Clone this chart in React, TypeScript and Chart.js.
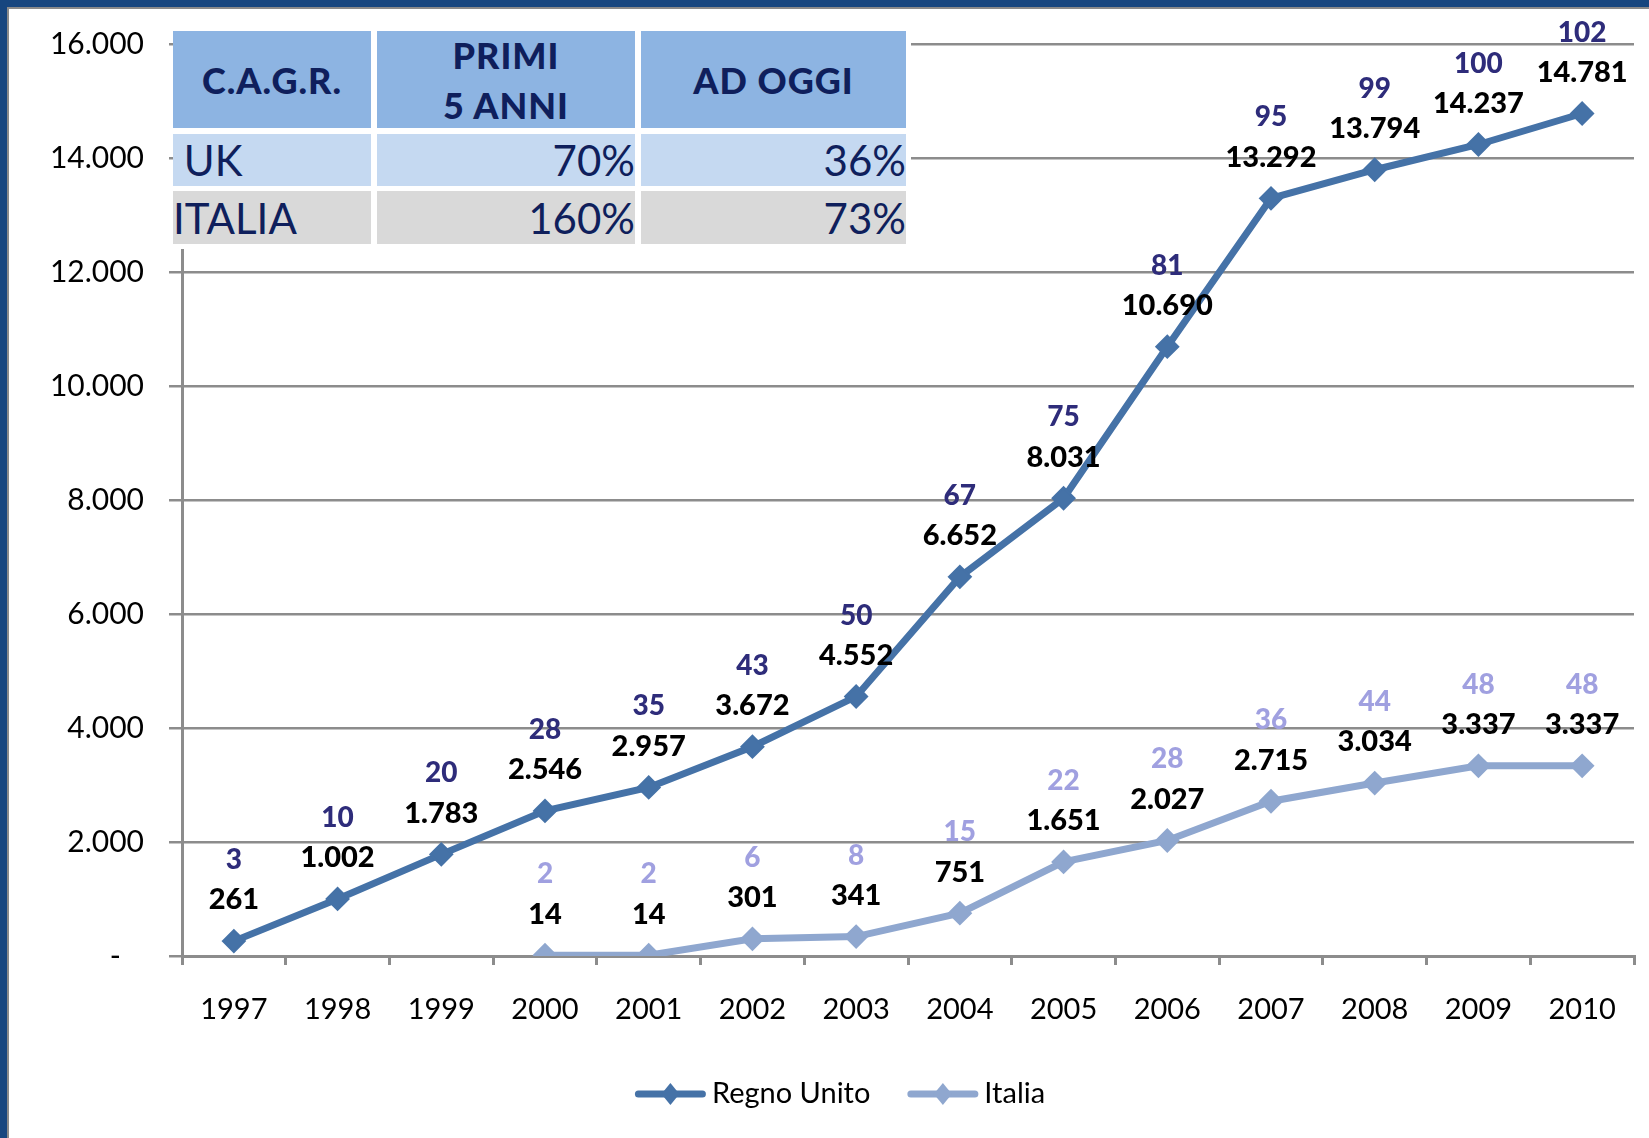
import React, { useEffect, useRef } from "react";
import { Chart, registerables } from "chart.js";

Chart.register(...registerables);

// ---------- data ----------
const years = ["1997", "1998", "1999", "2000", "2001", "2002", "2003", "2004", "2005", "2006", "2007", "2008", "2009", "2010"];
const ukValues = [261, 1002, 1783, 2546, 2957, 3672, 4552, 6652, 8031, 10690, 13292, 13794, 14237, 14781];
const italyValues = [null, null, null, 14, 14, 301, 341, 751, 1651, 2027, 2715, 3034, 3337, 3337];
const ukCounts = [3, 10, 20, 28, 35, 43, 50, 67, 75, 81, 95, 99, 100, 102];
const italyCounts = [null, null, null, 2, 2, 6, 8, 15, 22, 28, 36, 44, 48, 48];
const seriesNames = ["Regno Unito", "Italia"];
const yMin = 0;
const yMax = 16000;
const yStep = 2000;

const tableHeader = ["C.A.G.R.", "PRIMI\n5 ANNI", "AD OGGI"];
const tableRowUK = [" UK", "70%", "36%"];
const tableRowItalia = ["ITALIA", "160%", "73%"];

// ---------- styles ----------
const UK_COLOR = "#4572A7";
const IT_COLOR = "#8FA7CF";
const UK_COUNT_COLOR = "#2E2C7A";
const IT_COUNT_COLOR = "#A0A0E0";
const GRID = "#8C8C8C";
const FONT = "Lato, 'Open Sans', sans-serif";
const NAVY = "#0F1F5C";

const fmt = (v: number) =>
  v === 0 ? "-" : String(v).replace(/\B(?=(\d{3})+(?!\d))/g, ".");

const countsBySeries = [ukCounts, italyCounts];
const countColors = [UK_COUNT_COLOR, IT_COUNT_COLOR];

const pointLabelPlugin = {
  id: "pointLabels",
  afterDatasetsDraw(chart: any) {
    const ctx = chart.ctx;
    chart.data.datasets.forEach((ds: any, i: number) => {
      const meta = chart.getDatasetMeta(i);
      const counts = countsBySeries[i];
      meta.data.forEach((pt: any, j: number) => {
        const v = ds.data[j];
        if (v == null) return;
        ctx.save();
        ctx.textAlign = "center";
        ctx.textBaseline = "middle";
        ctx.font = `900 29px ${FONT}`;
        ctx.fillStyle = "#000000";
        ctx.fillText(fmt(v), pt.x, pt.y - 41);
        if (counts[j] != null) {
          ctx.font = `900 28px ${FONT}`;
          ctx.fillStyle = countColors[i];
          ctx.fillText(String(counts[j]), pt.x, pt.y - 81);
        }
        ctx.restore();
      });
    });
  },
};

const legendPlugin = {
  id: "excelLegend",
  afterDraw(chart: any) {
    const ctx = chart.ctx;
    const y = 1094;
    const centerX = 840;
    const sample = 71;
    const gapText = 6;
    const gapItem = 37;
    ctx.save();
    ctx.font = `29px ${FONT}`;
    const items = chart.data.datasets.map((ds: any) => ({
      label: ds.label,
      color: ds.borderColor,
      w: ctx.measureText(ds.label).width,
    }));
    const total =
      items.reduce((s: number, it: any) => s + sample + gapText + it.w, 0) +
      gapItem * (items.length - 1);
    let x = centerX - total / 2;
    items.forEach((it: any) => {
      ctx.strokeStyle = it.color;
      ctx.lineWidth = 7;
      ctx.lineCap = "round";
      ctx.beginPath();
      ctx.moveTo(x + 3.5, y);
      ctx.lineTo(x + sample - 3.5, y);
      ctx.stroke();
      const cx = x + sample / 2;
      ctx.fillStyle = it.color;
      ctx.beginPath();
      ctx.moveTo(cx, y - 11);
      ctx.lineTo(cx + 9, y);
      ctx.lineTo(cx, y + 11);
      ctx.lineTo(cx - 9, y);
      ctx.closePath();
      ctx.fill();
      ctx.fillStyle = "#000000";
      ctx.textAlign = "left";
      ctx.textBaseline = "middle";
      ctx.fillText(it.label, x + sample + gapText, y);
      x += sample + gapText + it.w + gapItem;
    });
    ctx.restore();
  },
};

const cellBase: React.CSSProperties = {
  position: "absolute",
  display: "flex",
  alignItems: "center",
  color: NAVY,
  fontFamily: FONT,
  whiteSpace: "pre",
  overflow: "visible",
};

const cols = [
  { left: 173, width: 198 },
  { left: 377, width: 258 },
  { left: 641, width: 265 },
];
const rows = [
  { top: 31, height: 97, bg: "#8DB4E2" },
  { top: 134, height: 52, bg: "#C5D9F1" },
  { top: 191, height: 53, bg: "#D9D9D9" },
];

function CagrTable() {
  const data = [tableHeader, tableRowUK, tableRowItalia];
  return (
    <>
      <div
        style={{ position: "absolute", left: 173, top: 31, width: 738, height: 218, background: "#FFFFFF" }}
      />
      {data.map((row, r) =>
        row.map((text, c) => {
          const isHeader = r === 0;
          const style: React.CSSProperties = {
            ...cellBase,
            left: cols[c].left,
            width: cols[c].width,
            top: rows[r].top,
            height: rows[r].height,
            background: rows[r].bg,
            justifyContent: isHeader ? "center" : c === 0 ? "flex-start" : "flex-end",
            textAlign: isHeader ? "center" : c === 0 ? "left" : "right",
            fontWeight: isHeader ? 900 : 400,
            fontSize: isHeader ? 36 : 42,
            letterSpacing: isHeader ? "1px" : "0px",
            lineHeight: isHeader ? "50px" : "normal",
            whiteSpace: isHeader ? "pre-line" : "pre",
          };
          return (
            <div key={`${r}-${c}`} style={style}>
              <span>{text}</span>
            </div>
          );
        })
      )}
    </>
  );
}

export default function App() {
  const canvasRef = useRef<HTMLCanvasElement | null>(null);

  useEffect(() => {
    if (!canvasRef.current) return;
    Chart.defaults.font.family = FONT;
    const chart = new Chart(canvasRef.current, {
      type: "line",
      data: {
        labels: years,
        datasets: [
          {
            label: seriesNames[0],
            data: ukValues,
            borderColor: UK_COLOR,
            backgroundColor: UK_COLOR,
            borderWidth: 7,
            pointStyle: "rectRot",
            pointRadius: 11,
            pointBorderWidth: 2,
            pointBackgroundColor: UK_COLOR,
            pointBorderColor: UK_COLOR,
            tension: 0,
          },
          {
            label: seriesNames[1],
            data: italyValues,
            borderColor: IT_COLOR,
            backgroundColor: IT_COLOR,
            borderWidth: 7,
            pointStyle: "rectRot",
            pointRadius: 11,
            pointBorderWidth: 2,
            pointBackgroundColor: IT_COLOR,
            pointBorderColor: IT_COLOR,
            tension: 0,
          },
        ],
      },
      options: {
        responsive: false,
        animation: false,
        devicePixelRatio: 1,
        layout: { padding: { top: 44, right: 15, bottom: 82, left: 0 } },
        plugins: {
          legend: { display: false },
          title: { display: false },
          tooltip: { enabled: false },
        },
        scales: {
          x: {
            type: "category",
            offset: true,
            grid: {
              offset: true,
              drawOnChartArea: false,
              drawTicks: true,
              tickLength: 9,
              color: GRID,
              lineWidth: 3,
            },
            border: { display: true, color: GRID, width: 3 },
            ticks: {
              color: "#000000",
              font: { size: 29, family: FONT },
              padding: 27,
              maxRotation: 0,
              autoSkip: false,
            },
            afterFit: (s: any) => {
              s.height = 100;
            },
          },
          y: {
            min: yMin,
            max: yMax,
            ticks: {
              stepSize: yStep,
              color: "#000000",
              font: { size: 30, family: FONT },
              padding: 25,
              callback: (v: any) => (Number(v) === 0 ? "-   " : fmt(Number(v))),
            },
            grid: {
              color: GRID,
              lineWidth: 2.5,
              tickLength: 13,
              drawTicks: true,
            },
            border: { display: true, color: GRID, width: 3 },
            afterFit: (s: any) => {
              s.width = 182;
            },
          },
        },
      },
      plugins: [pointLabelPlugin, legendPlugin],
    } as any);
    return () => chart.destroy();
  }, []);

  return (
    <div
      style={{
        position: "absolute",
        left: 0,
        top: 0,
        width: 1649,
        height: 1138,
        background: "#FFFFFF",
        overflow: "hidden",
      }}
    >
      <canvas
        ref={canvasRef}
        width={1649}
        height={1138}
        style={{ position: "absolute", left: 0, top: 0, width: 1649, height: 1138 }}
      />
      <CagrTable />
      <div style={{ position: "absolute", left: 0, top: 0, width: 1649, height: 7, background: "#17467F" }} />
      <div style={{ position: "absolute", left: 7, top: 7, width: 1642, height: 2, background: "#8A8A8A" }} />
      <div style={{ position: "absolute", left: 0, top: 0, width: 7, height: 1138, background: "#17467F" }} />
      <div style={{ position: "absolute", left: 7, top: 7, width: 2, height: 1131, background: "#8A8A8A" }} />
    </div>
  );
}
